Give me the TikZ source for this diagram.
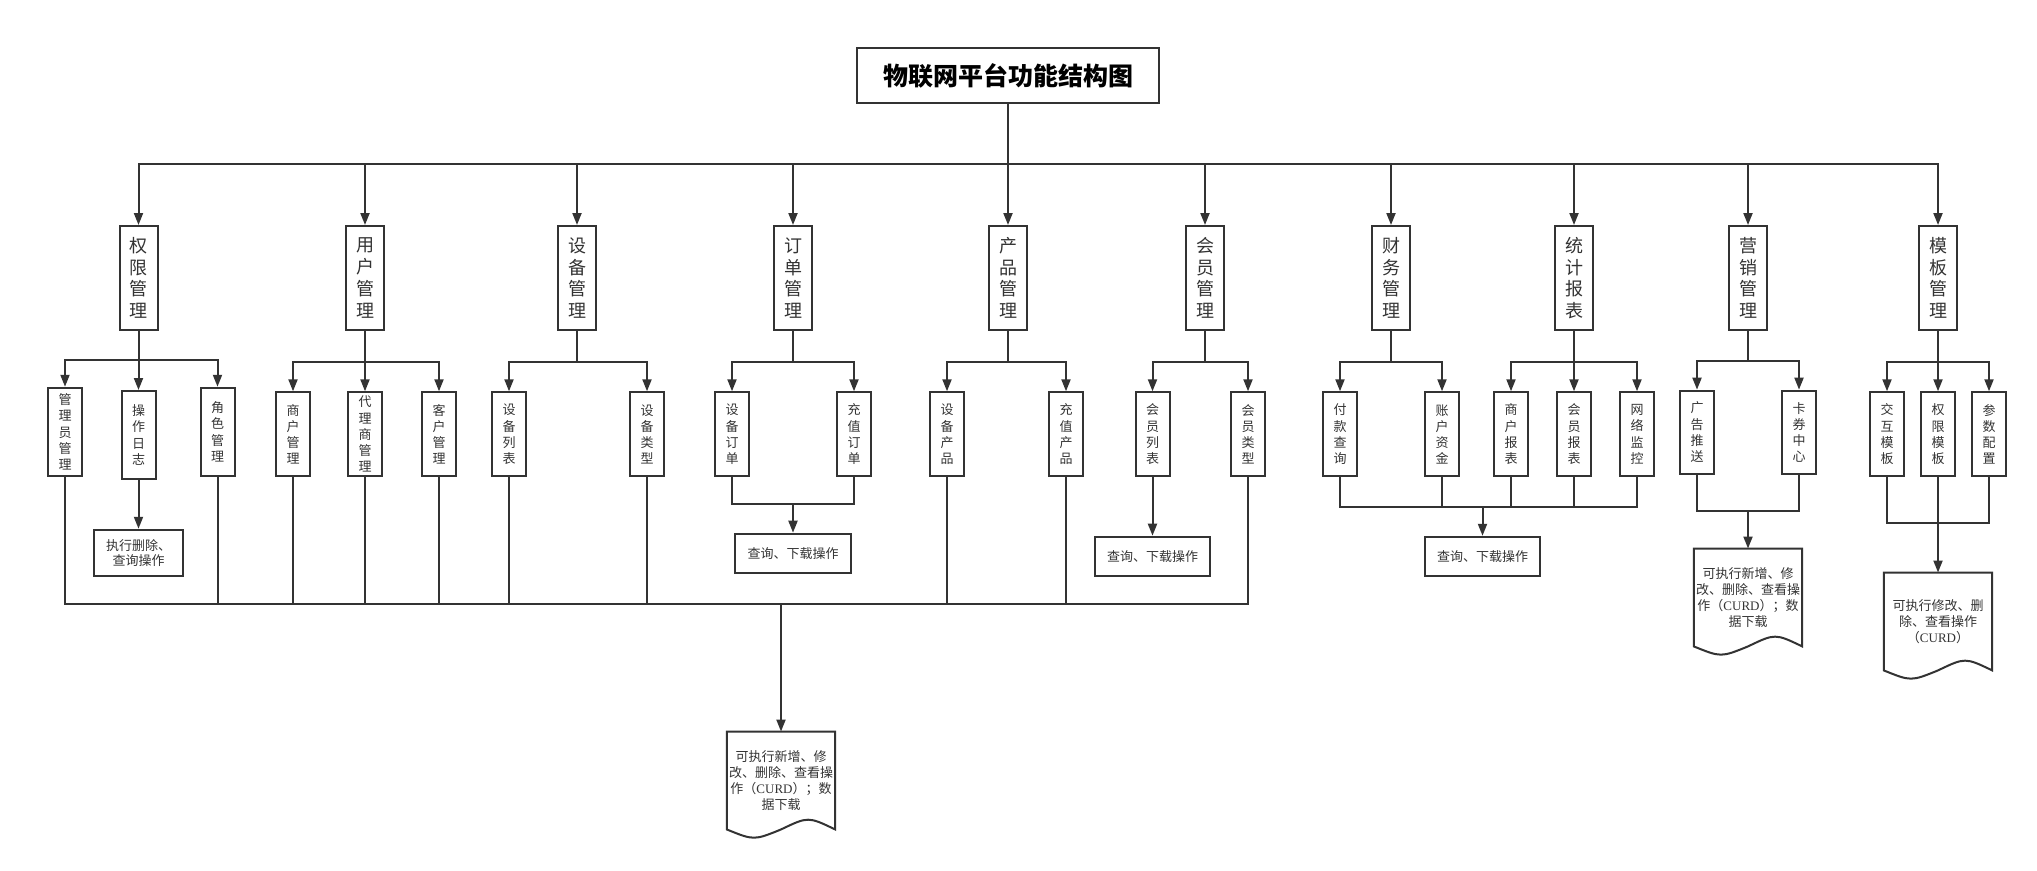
\documentclass[tikz,border=0pt]{standalone}
\usepackage{fontspec}
\setmainfont{Noto Sans CJK SC}
\newfontfamily\latserif{Liberation Serif}
\usetikzlibrary{arrows.meta,calc}
\definecolor{ln}{HTML}{333333}
\tikzset{
 box/.style={draw=ln, line width=2pt, inner sep=0pt, align=center, text=ln},
 titlebox/.style={box, minimum width=302pt, minimum height=55pt, font=\fontsize{25}{30}\selectfont\bfseries, text=black},
 mainbox/.style={box, minimum width=38pt, minimum height=104pt, font=\fontsize{18}{21.7}\selectfont},
 subbox/.style={box, minimum width=34pt, minimum height=84pt, font=\fontsize{13}{16.2}\selectfont},
 opbox/.style={box, minimum height=39pt, font=\fontsize{13}{15.5}\selectfont},
 docnode/.style={inner sep=0pt, align=center, text=ln, minimum width=108pt, minimum height=97.5pt, font=\fontsize{13}{16}\selectfont},
 conn/.style={draw=ln, line width=2pt},
 arr/.style={conn, -{Triangle[length=12pt,width=9pt]}},
}
\newcommand\drawdoc[1]{%
 \draw[draw=ln, line width=2pt] (#1.south west) -- (#1.north west) -- (#1.north east) -- (#1.south east)
   .. controls ($(#1.south east)!0.25!(#1.south west)+(0,-13)$) .. (#1.south)
   .. controls ($(#1.south east)!0.75!(#1.south west)+(0,11)$) .. (#1.south west) -- cycle;}
\begin{document}
\begin{tikzpicture}[x=1pt,y=-1pt]
\useasboundingbox (0,0) rectangle (2037,870);
% title
\node[titlebox] (t) at (1008,75.5) {物联网平台功能结构图};
% level 1
\node[mainbox] (q) at (138.5,278) {权\\限\\管\\理};
\node[mainbox] (y) at (365,278) {用\\户\\管\\理};
\node[mainbox] (s) at (577,278) {设\\备\\管\\理};
\node[mainbox] (d) at (793,278) {订\\单\\管\\理};
\node[mainbox] (p) at (1008,278) {产\\品\\管\\理};
\node[mainbox] (h) at (1205,278) {会\\员\\管\\理};
\node[mainbox] (c) at (1391,278) {财\\务\\管\\理};
\node[mainbox] (r) at (1574,278) {统\\计\\报\\表};
\node[mainbox] (m) at (1748,278) {营\\销\\管\\理};
\node[mainbox] (b) at (1938,278) {模\\板\\管\\理};
% level 2
\node[subbox, minimum height=88.3pt] (q1) at (65,431.9) {管\\理\\员\\管\\理};
\node[subbox, minimum height=88pt] (q2) at (138.5,435) {操\\作\\日\\志};
\node[subbox, minimum height=88.3pt] (q3) at (217.5,431.9) {角\\色\\管\\理};
\node[subbox] (y1) at (293,434.3) {商\\户\\管\\理};
\node[subbox] (y2) at (365,434.3) {代\\理\\商\\管\\理};
\node[subbox] (y3) at (439,434.3) {客\\户\\管\\理};
\node[subbox] (s1) at (509,434.3) {设\\备\\列\\表};
\node[subbox] (s2) at (647,434.3) {设\\备\\类\\型};
\node[subbox] (d1) at (732,434.3) {设\\备\\订\\单};
\node[subbox] (d2) at (854,434.3) {充\\值\\订\\单};
\node[subbox] (p1) at (947,434.3) {设\\备\\产\\品};
\node[subbox] (p2) at (1066,434.3) {充\\值\\产\\品};
\node[subbox] (h1) at (1152.5,434.3) {会\\员\\列\\表};
\node[subbox] (h2) at (1248,434.3) {会\\员\\类\\型};
\node[subbox] (c1) at (1340,434.3) {付\\款\\查\\询};
\node[subbox] (c2) at (1442,434.3) {账\\户\\资\\金};
\node[subbox] (r1) at (1511,434.3) {商\\户\\报\\表};
\node[subbox] (r2) at (1574,434.3) {会\\员\\报\\表};
\node[subbox] (r3) at (1637,434.3) {网\\络\\监\\控};
\node[subbox, minimum height=83.3pt] (m1) at (1697,432.3) {广\\告\\推\\送};
\node[subbox, minimum height=83.3pt] (m2) at (1799,432.3) {卡\\券\\中\\心};
\node[subbox] (b1) at (1887,434.3) {交\\互\\模\\板};
\node[subbox] (b2) at (1938,434.3) {权\\限\\模\\板};
\node[subbox] (b3) at (1989,434.3) {参\\数\\配\\置};
% operation boxes
\node[opbox, minimum width=88.7pt, minimum height=46.3pt] (qo) at (138.5,552.9) {执行删除、\\查询操作};
\node[opbox, minimum width=116pt] (do) at (793,553.2) {查询、下载操作};
\node[opbox, minimum width=115pt] (ho) at (1152.5,556.2) {查询、下载操作};
\node[opbox, minimum width=115pt] (co) at (1482.5,556.3) {查询、下载操作};
% documents
\node[docnode] (md) at (781,780.5) {可执行新增、修\\改、删除、查看操\\作（{\latserif CURD}）；数\\据下载};
\node[docnode] (gd) at (1748,597.45) {可执行新增、修\\改、删除、查看操\\作（{\latserif CURD}）；数\\据下载};
\node[docnode] (bd) at (1938,621.45) {可执行修改、删\\除、查看操作\\（{\latserif CURD}）};
\drawdoc{md}
\drawdoc{gd}
\drawdoc{bd}
% merge points
\coordinate (tb) at (1008,163.7);
\coordinate (mb) at (781,603.7);
\coordinate (dm) at (793,504);
\coordinate (cm) at (1482.5,506.7);
\coordinate (mm) at (1748,511);
\coordinate (bm) at (1938,523);
% title to level 1
\foreach \n in {q,y,s,d,p,h,c,r,m,b} \draw[arr] (t.south) -- (tb) -| (\n.north);
% level 1 to level 2
\foreach \b in {q1,q2,q3} \draw[arr] (q.south) -- ++(0,29) -| (\b.north);
\foreach \a/\b in {y/y1,y/y2,y/y3,s/s1,s/s2,d/d1,d/d2,p/p1,p/p2,h/h1,h/h2,c/c1,c/c2,r/r1,r/r2,r/r3,b/b1,b/b2,b/b3}
  \draw[arr] (\a.south) -- ++(0,31) -| (\b.north);
\foreach \b in {m1,m2} \draw[arr] (m.south) -- ++(0,30) -| (\b.north);
% level 2 to results
\foreach \n in {q1,q3,y1,y2,y3,s1,s2,p1,p2,h2} \draw[conn] (\n.south) |- (mb);
\draw[arr] (mb) -- (md.north);
\draw[arr] (q2.south) -- (qo.north);
\foreach \n in {d1,d2} \draw[conn] (\n.south) |- (dm);
\draw[arr] (dm) -- (do.north);
\draw[arr] (h1.south) -- (ho.north);
\foreach \n in {c1,c2,r1,r2,r3} \draw[conn] (\n.south) |- (cm);
\draw[arr] (cm) -- (co.north);
\foreach \n in {m1,m2} \draw[conn] (\n.south) |- (mm);
\draw[arr] (mm) -- (gd.north);
\foreach \n in {b1,b2,b3} \draw[conn] (\n.south) |- (bm);
\draw[arr] (bm) -- (bd.north);
\end{tikzpicture}
\end{document}
